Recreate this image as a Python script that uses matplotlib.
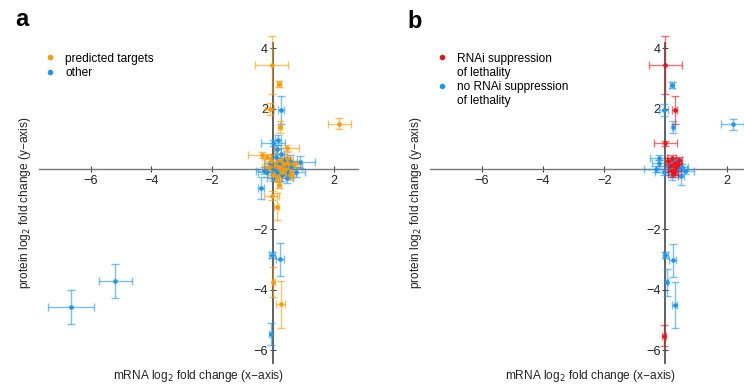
import matplotlib
matplotlib.use("Agg")
from matplotlib import pyplot as plt
from matplotlib.lines import Line2D

plt.rcParams['font.family'] = ['Liberation Sans', 'DejaVu Sans']

# panel a - predicted targets (x, y, xerr, yerr)
tgt_x = [-0.04, 0.20, -0.10, 0.23, 2.19, 0.45, -0.37, -0.20, 0.20, -0.04, 0.12, 0.01, 0.25,
         0.10, 0.30, 0.50, 0.00, 0.60, 0.25, -0.15, 0.40, 0.70, 0.15, 0.35, 0.55, -0.05, 0.20, 0.45]
tgt_y = [3.44, 2.80, 1.99, 1.40, 1.50, 0.68, 0.46, 0.41, -0.53, -0.88, -1.25, -3.73, -4.48,
         0.10, -0.10, 0.20, -0.20, -0.05, 0.30, 0.05, 0.00, 0.15, -0.25, 0.15, -0.20, 0.25, 0.05, 0.35]
tgt_xerr = [0.55, 0.06, 0.15, 0.06, 0.38, 0.41, 0.44, 0.15, 0.08, 0.25, 0.08, 0.05, 0.15,
            0.20, 0.25, 0.30, 0.20, 0.20, 0.15, 0.20, 0.20, 0.25, 0.10, 0.15, 0.15, 0.20, 0.30, 0.20]
tgt_yerr = [0.96, 0.10, 0.20, 0.20, 0.18, 0.10, 0.10, 0.08, 0.10, 0.15, 0.45, 0.50, 0.77,
            0.15, 0.20, 0.15, 0.15, 0.20, 0.20, 0.10, 0.25, 0.10, 0.15, 0.10, 0.15, 0.10, 0.20, 0.20]

# panel a - other
oth_x = [0.26, 0.17, 0.00, 0.89, -0.39, -0.02, 0.23, -0.08, -6.64, -5.19,
         0.05, 0.20, 0.40, -0.20, 0.60, 0.30, 0.10, 0.50, -0.10, 0.75, 0.15, 0.35, 0.00,
         0.25, 0.55, -0.30, 0.45, 0.15]
oth_y = [1.95, 0.96, 0.87, 0.24, -0.62, -2.85, -2.99, -5.47, -4.56, -3.72,
         0.00, 0.15, 0.10, -0.10, 0.05, -0.20, 0.40, -0.10, 0.20, -0.10, -0.10, 0.30, -0.30,
         0.50, 0.25, -0.05, -0.30, 0.65]
oth_xerr = [0.10, 0.10, 0.40, 0.50, 0.10, 0.10, 0.12, 0.06, 0.76, 0.55,
            0.30, 0.25, 0.30, 0.30, 0.35, 0.20, 0.15, 0.25, 0.20, 0.30, 0.20, 0.20, 0.20,
            0.10, 0.25, 0.25, 0.20, 0.10]
oth_yerr = [0.45, 0.15, 0.10, 0.20, 0.37, 0.10, 0.55, 0.37, 0.56, 0.56,
            0.20, 0.20, 0.15, 0.15, 0.20, 0.20, 0.25, 0.20, 0.15, 0.15, 0.30, 0.20, 0.10,
            0.20, 0.20, 0.10, 0.15, 0.15]

# panel b - RNAi suppression of lethality
sup_x = [0.00, 0.30, 0.00, -0.05, 0.15, 0.30, 0.20, 0.35, 0.10, 0.25, 0.40, 0.45, 0.20, 0.30]
sup_y = [3.44, 1.95, 0.85, -5.52, 0.10, 0.20, -0.05, 0.05, 0.25, -0.15, 0.15, 0.30, 0.35, -0.05]
sup_xerr = [0.55, 0.08, 0.37, 0.06, 0.15, 0.15, 0.10, 0.10, 0.10, 0.15, 0.10, 0.10, 0.15, 0.20]
sup_yerr = [0.96, 0.47, 0.08, 0.35, 0.15, 0.15, 0.20, 0.10, 0.10, 0.10, 0.15, 0.10, 0.10, 0.15]

# panel b - no RNAi suppression of lethality
nosup_x = [0.21, -0.06, 0.26, 2.20, -0.20, 0.65, 0.50, 0.00, 0.24, 0.04, 0.30,
           -0.30, 0.10, 0.40, -0.05, 0.30, 0.55, 0.20, -0.20]
nosup_y = [2.78, 1.95, 1.40, 1.48, 0.38, -0.07, -0.22, -2.85, -3.02, -3.75, -4.50,
           0.00, 0.10, 0.00, -0.10, 0.25, 0.05, -0.20, 0.20]
nosup_xerr = [0.06, 0.15, 0.06, 0.38, 0.30, 0.30, 0.10, 0.08, 0.12, 0.06, 0.08,
              0.40, 0.30, 0.30, 0.30, 0.20, 0.20, 0.20, 0.25]
nosup_yerr = [0.10, 0.20, 0.20, 0.18, 0.08, 0.08, 0.30, 0.10, 0.55, 0.45, 0.75,
              0.10, 0.20, 0.15, 0.10, 0.10, 0.10, 0.15, 0.10]

ORANGE = '#FF9900'
BLUE = '#1E96F0'
RED = '#E8141B'
FS = 8.6

W, H = 744, 391


def add_panel(fig, left_px, right_px):
    # axes placed in pixel coords of the reference
    ax = fig.add_axes([left_px / W, 1 - 363 / H, (right_px - left_px) / W, 320 / H])
    ax.set_xlim(-7.7, 2.8)
    ax.set_ylim(-6.42, 4.17)
    for s in ['top', 'right']:
        ax.spines[s].set_visible(False)
    ax.spines['left'].set_position(('data', 0))
    ax.spines['bottom'].set_position(('data', 0))
    ax.spines['left'].set_color('#555555')
    ax.spines['left'].set_linewidth(1.3)
    ax.spines['bottom'].set_color('#777777')
    ax.spines['bottom'].set_linewidth(1.0)
    ax.set_xticks([-6, -4, -2, 2])
    ax.set_yticks([-6, -4, -2, 2, 4])
    ax.tick_params(direction='inout', length=5, width=0.8, color='#444444',
                   labelsize=9.2, labelcolor='#222222')
    ax.tick_params(axis='x', pad=1.5)
    ax.tick_params(axis='y', pad=1)
    ax.patch.set_visible(False)
    ax.text(0.5, -0.04, 'mRNA log$_2$ fold change (x\u2212axis)', transform=ax.transAxes,
            ha='center', va='center', fontsize=FS, color='#222222')
    ax.text(-0.045, 0.5, 'protein log$_2$ fold change (y\u2212axis)', transform=ax.transAxes,
            ha='center', va='center', rotation=90, fontsize=FS, color='#222222')
    return ax


def draw(ax, x, y, xerr, yerr, color):
    ax.errorbar(x, y, xerr=xerr, yerr=yerr, fmt='none', ecolor=color, elinewidth=1.0,
                capsize=2.8, capthick=1.0, alpha=0.6, zorder=3, clip_on=False)
    ax.plot(x, y, 'o', ms=2.3, color=color, zorder=4, clip_on=False)


fig = plt.figure(figsize=(W / 100, H / 100), dpi=100)

leg_kw = dict(loc='upper left', frameon=False, fontsize=FS, handlelength=1.0,
              handletextpad=0.75, labelspacing=0.18, borderpad=0, borderaxespad=0)

ax1 = add_panel(fig, 39, 358)
draw(ax1, oth_x, oth_y, oth_xerr, oth_yerr, BLUE)
draw(ax1, tgt_x, tgt_y, tgt_xerr, tgt_yerr, ORANGE)
h1 = [Line2D([], [], ls='', marker='o', ms=3, color=ORANGE),
      Line2D([], [], ls='', marker='o', ms=3, color=BLUE)]
ax1.legend(h1, ['predicted targets', 'other'], bbox_to_anchor=(0.016, 0.97), **leg_kw)

ax2 = add_panel(fig, 430, 751)
draw(ax2, nosup_x, nosup_y, nosup_xerr, nosup_yerr, BLUE)
draw(ax2, sup_x, sup_y, sup_xerr, sup_yerr, RED)
blank = Line2D([], [], ls='', marker='')
h2 = [Line2D([], [], ls='', marker='o', ms=3, color=RED), blank,
      Line2D([], [], ls='', marker='o', ms=3, color=BLUE), blank]
ax2.legend(h2, ['RNAi suppression', 'of lethality', 'no RNAi suppression', 'of lethality'],
           bbox_to_anchor=(0.019, 0.97), **leg_kw)

fig.text(22 / W, 1 - 20 / H, 'a', fontsize=17, fontweight='bold', ha='center', va='center')
fig.text(415 / W, 1 - 21 / H, 'b', fontsize=17, fontweight='bold', ha='center', va='center')

fig.savefig('out.png', dpi=100)
